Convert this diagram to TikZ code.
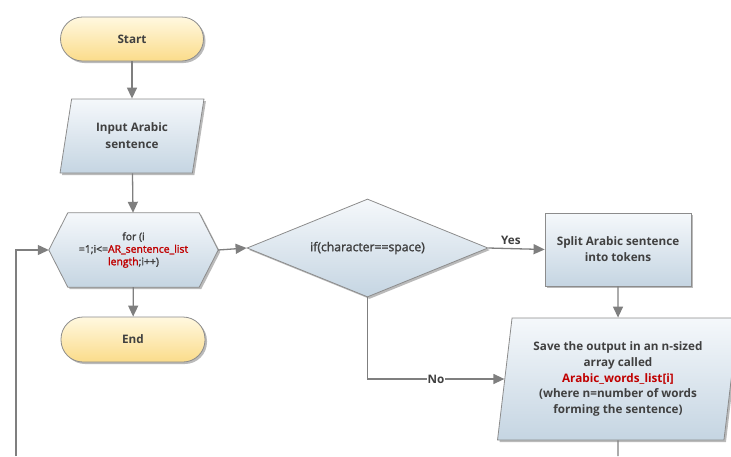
\documentclass[tikz,border=0pt]{standalone}
\usepackage{fontspec}
\setmainfont{Open Sans}
\newfontfamily\semib{Open Sans}[RawFeature={embolden=1.8}]
\usetikzlibrary{shapes.geometric,shadows,arrows.meta,backgrounds}
\definecolor{txt}{HTML}{404040}
\definecolor{redt}{HTML}{C00000}
\definecolor{edge}{HTML}{8C8C8C}
\definecolor{linec}{HTML}{7F7F7F}
\definecolor{ytop}{HTML}{FFF8E0}
\definecolor{ybot}{HTML}{FBDC8A}
\definecolor{btop}{HTML}{F5F8FB}
\definecolor{bbot}{HTML}{C5D5E2}
\tikzset{
  shade/.style={draw=edge, line width=0.8pt,
    drop shadow={shadow xshift=2pt, shadow yshift=-2pt, fill=black!45, opacity=0.6}},
  base/.style={shade, text=txt, font=\fontsize{11.7}{15.8}\selectfont\bfseries, align=center},
  term/.style={base, rectangle, rounded corners=22pt, top color=ytop, bottom color=ybot, minimum width=143pt, minimum height=44pt},
  blue/.style={base, top color=btop, bottom color=bbot},
  bluefill/.style={shade, top color=btop, bottom color=bbot},
  procbox/.style={blue, rectangle, minimum width=146pt, minimum height=73pt},
  para/.style={blue, trapezium, trapezium stretches=true},
  hexa/.style={rectangle, text=txt, font=\fontsize{10.4}{12.5}\selectfont\semib, align=center, minimum width=169pt, minimum height=74pt, inner sep=0pt},
  dec/.style={blue, diamond, aspect=2.46, font=\fontsize{12.2}{14}\selectfont\semib, minimum width=241pt, minimum height=98pt, inner sep=0pt},
  conn/.style={draw=linec, line width=1.3pt, -{Triangle[length=11pt,width=10pt]}},
  plain/.style={draw=linec, line width=1.3pt},
  lbl/.style={text=txt, font=\fontsize{11.7}{13}\selectfont\bfseries}
}
\begin{document}
\begin{tikzpicture}[x=1pt,y=-1pt]
\useasboundingbox (0,0) rectangle (731,456);
\node[term] (start) at (132,39) {Start};
\node[para, trapezium left angle=77, trapezium right angle=103, minimum width=145pt, minimum height=74pt, font=\fontsize{11.7}{17}\selectfont\bfseries] (input) at (132,136) {Input Arabic\\sentence};
\node[hexa] (loop) at (133.5,250) {for (i\\=1;i<=\textcolor{redt}{AR\_sentence\_list}\\\textcolor{redt}{length};i++)};
\begin{scope}[on background layer]
\path[bluefill] (loop.west) -- ([xshift=19pt]loop.north west) -- ([xshift=-19pt]loop.north east) -- (loop.east) -- ([xshift=-19pt]loop.south east) -- ([xshift=19pt]loop.south west) -- cycle;
\end{scope}
\node[term, minimum width=144pt, minimum height=45pt] (end) at (133,339.5) {End};
\node[dec] (dec) at (367.5,248) {if(character==space)};
\node[procbox] (split) at (618,249.5) {Split Arabic sentence\\into tokens};
\node[para, trapezium left angle=81.6, trapezium right angle=98.4, minimum width=241pt, minimum height=122pt] (save) at (618,379) {Save the output in an n-sized\\array called\\\textcolor{redt}{Arabic\_words\_list[i]}\\(where n=number of words\\forming the sentence)};
\coordinate (loopin) at (16,456);
\coordinate (saveout) at (618,456);
\draw[conn] (start) -- (input);
\draw[conn] (input) -- (loop);
\draw[conn] (loop) -- (end);
\draw[conn] (loop.east) -- (dec.west);
\draw[conn] (dec.east) -- node[lbl, above, pos=0.4] {Yes} (split.west);
\draw[conn] (split) -- (save);
\draw[conn] (dec.south) |- node[lbl, fill=white, inner sep=1pt, pos=0.75] {No} (save.west);
\draw[conn] (loopin) |- (loop.west);
\draw[plain] (save.south) -- (saveout);
\end{tikzpicture}
\end{document}
